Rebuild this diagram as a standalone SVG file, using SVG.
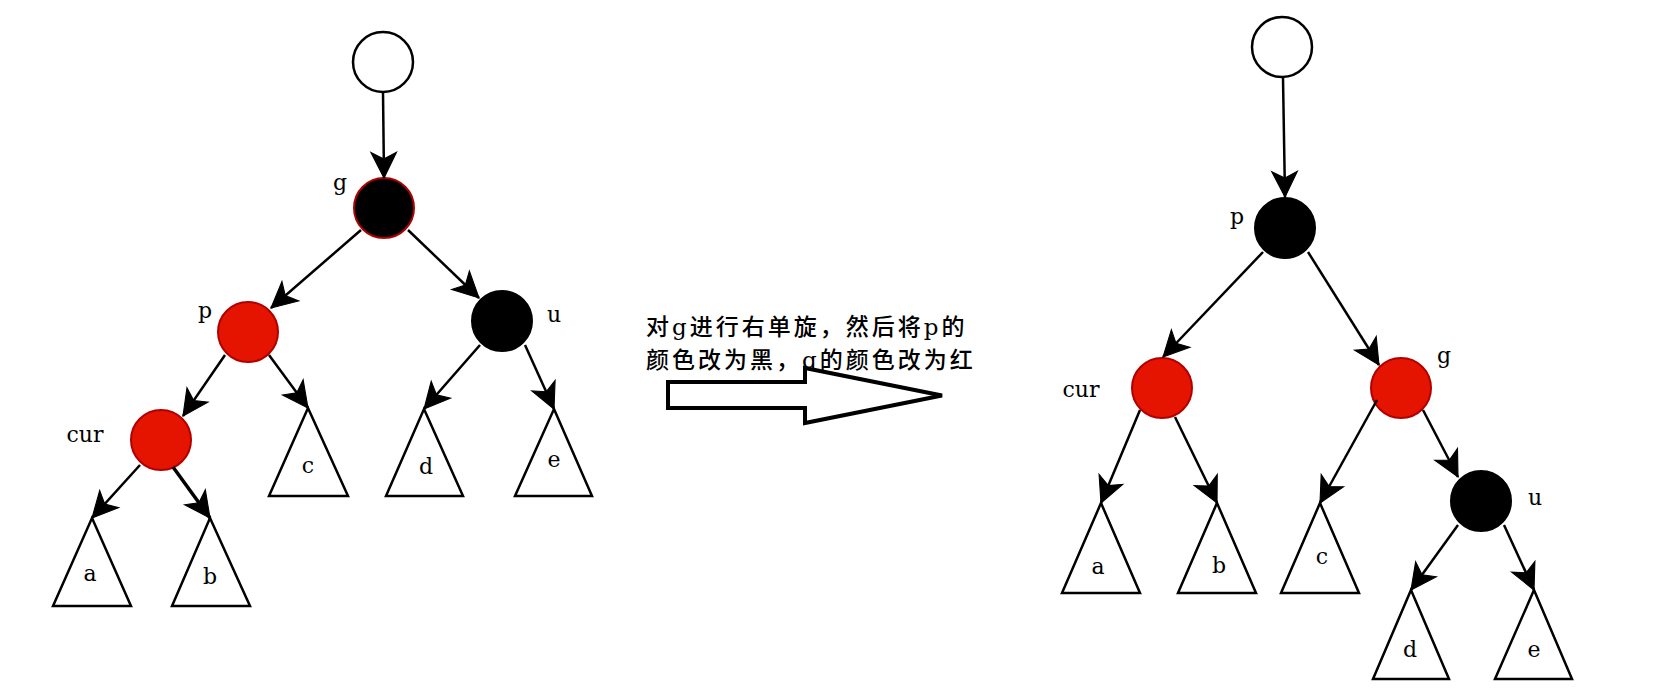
<svg xmlns="http://www.w3.org/2000/svg" width="1654" height="700" viewBox="0 0 1654 700">
<style>
.empty{fill:#ffffff;stroke:#000000;stroke-width:2.5}
.red{fill:#E51400;stroke:#B20000;stroke-width:2}
.blk{fill:#000000;stroke:#000000;stroke-width:2}
.blkr{fill:#000000;stroke:#B20000;stroke-width:2}
.tri{fill:#ffffff;stroke:#000000;stroke-width:2.5;stroke-linejoin:miter}
.edge{stroke:#000000;stroke-width:2.5;fill:none;marker-end:url(#arr)}
.lbl{font-family:"DejaVu Serif","Liberation Serif",serif;font-size:22px;fill:#000000;text-anchor:middle}
.note{font-family:"DejaVu Serif","Noto Sans CJK SC",serif;font-size:23px;letter-spacing:3px;fill:#000000;font-weight:500}
</style>
<defs>
<marker id="arr" markerUnits="userSpaceOnUse" markerWidth="30" markerHeight="30" viewBox="-25 -13 27 26" refX="0" refY="0" orient="auto">
<path d="M0,0 L-23,-11.5 L-17,0 L-23,11.5 Z" fill="#000000" stroke="#000000" stroke-width="1"/>
</marker>
</defs>
<rect width="1654" height="700" fill="#ffffff"/>

<!-- Left tree nodes -->
<g id="L-root"><circle class="empty" cx="383" cy="62" r="30"/></g>
<g id="L-g"><circle class="blkr" cx="384" cy="208" r="30"/><text class="lbl" x="340" y="190">g</text></g>
<g id="L-p"><circle class="red" cx="248" cy="332" r="30"/><text class="lbl" x="205" y="318">p</text></g>
<g id="L-u"><circle class="blk" cx="502" cy="321" r="30"/><text class="lbl" x="554" y="322">u</text></g>
<g id="L-cur"><circle class="red" cx="161" cy="440" r="30"/><text class="lbl" x="85" y="442">cur</text></g>
<g id="L-a"><polygon class="tri" points="92,518 131,606 53,606"/><text class="lbl" x="90" y="581">a</text></g>
<g id="L-b"><polygon class="tri" points="210,518 250,606 172,606"/><text class="lbl" x="210" y="584">b</text></g>
<g id="L-c"><polygon class="tri" points="308,408 348,496 269,496"/><text class="lbl" x="308" y="473">c</text></g>
<g id="L-d"><polygon class="tri" points="424,409 463,496 386,496"/><text class="lbl" x="426" y="474">d</text></g>
<g id="L-e"><polygon class="tri" points="554,409 592,496 515,496"/><text class="lbl" x="554" y="467">e</text></g>

<!-- Middle note and block arrow -->
<g id="note">
<text class="note" x="646" y="335">对g进行右单旋，然后将p的</text>
<text class="note" x="646" y="368">颜色改为黑，g的颜色改为红</text>
</g>
<g id="bigarrow"><polygon points="668,382 805,382 805,368 942,395.5 805,423 805,408 668,408" fill="#ffffff" stroke="#000000" stroke-width="4" stroke-linejoin="miter"/></g>

<!-- Right tree nodes -->
<g id="R-root"><circle class="empty" cx="1282" cy="47" r="30"/></g>
<g id="R-p"><circle class="blk" cx="1285" cy="228" r="30"/><text class="lbl" x="1237" y="224">p</text></g>
<g id="R-cur"><circle class="red" cx="1162" cy="388" r="30"/><text class="lbl" x="1081" y="397">cur</text></g>
<g id="R-g"><circle class="red" cx="1401" cy="388" r="30"/><text class="lbl" x="1444" y="363">g</text></g>
<g id="R-u"><circle class="blk" cx="1481" cy="501" r="30"/><text class="lbl" x="1535" y="505">u</text></g>
<g id="R-a"><polygon class="tri" points="1101,503 1140,593 1062,593"/><text class="lbl" x="1098" y="574">a</text></g>
<g id="R-b"><polygon class="tri" points="1217,503 1256,593 1178,593"/><text class="lbl" x="1219" y="573">b</text></g>
<g id="R-c"><polygon class="tri" points="1320,503 1359,593 1281,593"/><text class="lbl" x="1322" y="564">c</text></g>
<g id="R-d"><polygon class="tri" points="1411,590 1449,679 1373,679"/><text class="lbl" x="1410" y="657">d</text></g>
<g id="R-e"><polygon class="tri" points="1534,590 1572,679 1495,679"/><text class="lbl" x="1534" y="657">e</text></g>

<!-- Connectors -->
<g id="connectors">
<line class="edge" x1="383" y1="92" x2="384" y2="178"/>
<line class="edge" x1="361" y1="230" x2="271" y2="308"/>
<line class="edge" x1="408" y1="230" x2="479" y2="298"/>
<line class="edge" x1="225" y1="355" x2="183" y2="416"/>
<line class="edge" x1="269" y1="355" x2="308" y2="408"/>
<line class="edge" x1="480" y1="345" x2="424" y2="409"/>
<line class="edge" x1="525" y1="345" x2="554" y2="409"/>
<line class="edge" x1="140" y1="465" x2="92" y2="518"/>
<line class="edge" x1="173" y1="467" x2="210" y2="518" style="stroke-width:3.5"/>

<line class="edge" x1="1283" y1="78" x2="1285" y2="197"/>
<line class="edge" x1="1263" y1="252" x2="1163" y2="357"/>
<line class="edge" x1="1308" y1="252" x2="1379" y2="365"/>
<line class="edge" x1="1140" y1="410" x2="1101" y2="503"/>
<line class="edge" x1="1175" y1="417" x2="1217" y2="503"/>
<line class="edge" x1="1377" y1="400" x2="1320" y2="503"/>
<line class="edge" x1="1423" y1="410" x2="1458" y2="477"/>
<line class="edge" x1="1458" y1="525" x2="1411" y2="590"/>
<line class="edge" x1="1504" y1="525" x2="1534" y2="590"/>
</g>
</svg>
